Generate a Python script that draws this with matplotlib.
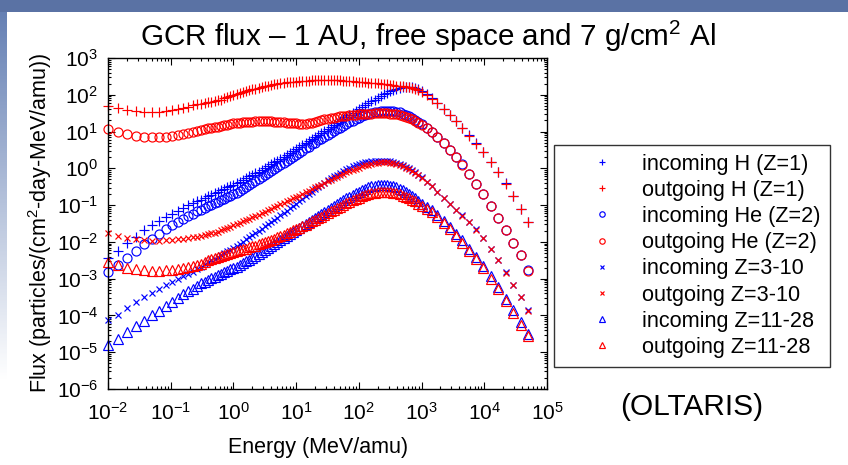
import matplotlib
matplotlib.use("Agg")
import matplotlib.pyplot as plt
from matplotlib.ticker import LogLocator, NullFormatter
from matplotlib.patches import Rectangle
import numpy as np

plt.rcParams['font.family'] = ['Liberation Sans', 'DejaVu Sans']
plt.rcParams['mathtext.fontset'] = 'custom'
plt.rcParams['mathtext.rm'] = 'Liberation Sans'
plt.rcParams['mathtext.default'] = 'regular'
plt.rcParams['axes.unicode_minus'] = False

# energy grid, log10(MeV/amu)
energy_log = [-2.0, -1.84, -1.69, -1.55, -1.42, -1.3, -1.19, -1.08, -0.98, -0.89, -0.8, -0.72, -0.65, -0.58, -0.52, -0.46, -0.4,
              -0.35, -0.3, -0.25, -0.2, -0.15, -0.1, -0.05, 0.0,
              0.05, 0.1, 0.15, 0.2, 0.25, 0.3, 0.35, 0.4, 0.45, 0.5, 0.55, 0.6, 0.65, 0.7, 0.75, 0.8, 0.85, 0.9, 0.95, 1.0,
              1.05, 1.1, 1.15, 1.2, 1.25, 1.3, 1.35, 1.4, 1.45, 1.5, 1.55, 1.6, 1.65, 1.7, 1.75, 1.8, 1.85, 1.9, 1.95, 2.0,
              2.05, 2.1, 2.15, 2.2, 2.25, 2.3, 2.35, 2.4, 2.45, 2.5, 2.55, 2.6, 2.65, 2.7, 2.75, 2.8, 2.85, 2.9, 2.95, 3.0,
              3.08, 3.16, 3.25, 3.35, 3.45, 3.55, 3.65, 3.76, 3.87, 3.98, 4.1, 4.22, 4.34, 4.46, 4.58, 4.7]

# log10 flux, particles/(cm2-day-MeV/amu)
in_h = [-2.45, -2.24, -2.04, -1.86, -1.69, -1.55, -1.43, -1.32, -1.23, -1.15, -1.07, -1.01, -0.95, -0.89, -0.85, -0.80, -0.75,
        -0.72, -0.68, -0.64, -0.60, -0.56, -0.52, -0.48, -0.44,
        -0.40, -0.36, -0.31, -0.27, -0.22, -0.18, -0.13, -0.09, -0.04, 0.01, 0.06, 0.11, 0.16, 0.21, 0.26, 0.31, 0.36, 0.41, 0.46, 0.52,
        0.57, 0.63, 0.68, 0.74, 0.79, 0.85, 0.90, 0.96, 1.01, 1.07, 1.12, 1.18, 1.23, 1.29, 1.34, 1.40, 1.45, 1.51, 1.56, 1.62,
        1.67, 1.72, 1.77, 1.82, 1.87, 1.92, 1.97, 2.01, 2.05, 2.09, 2.13, 2.16, 2.19, 2.21, 2.22, 2.22, 2.21, 2.19, 2.15, 2.10,
        2.01, 1.90, 1.78, 1.62, 1.46, 1.30, 1.11, 0.90, 0.68, 0.45, 0.18, -0.10, -0.41, -0.74, -1.10, -1.46]
out_h = [1.70, 1.64, 1.58, 1.55, 1.52, 1.52, 1.53, 1.56, 1.59, 1.61, 1.64, 1.68, 1.71, 1.74, 1.76, 1.78, 1.80,
         1.81, 1.83, 1.85, 1.87, 1.90, 1.93, 1.96, 1.99,
         2.02, 2.05, 2.08, 2.10, 2.13, 2.15, 2.17, 2.19, 2.21, 2.23, 2.25, 2.27, 2.29, 2.30, 2.32, 2.33, 2.34, 2.35, 2.36, 2.36,
         2.37, 2.37, 2.38, 2.38, 2.39, 2.39, 2.39, 2.39, 2.39, 2.39, 2.39, 2.39, 2.39, 2.39, 2.38, 2.38, 2.37, 2.37, 2.36, 2.36,
         2.35, 2.34, 2.33, 2.32, 2.31, 2.31, 2.30, 2.29, 2.28, 2.27, 2.26, 2.25, 2.24, 2.23, 2.22, 2.20, 2.18, 2.15, 2.12, 2.08,
         1.99, 1.89, 1.77, 1.61, 1.45, 1.29, 1.10, 0.89, 0.67, 0.44, 0.17, -0.11, -0.42, -0.75, -1.11, -1.47]
in_he = [-2.82, -2.62, -2.44, -2.25, -2.06, -1.91, -1.78, -1.66, -1.55, -1.46, -1.37, -1.29, -1.23, -1.17, -1.12, -1.08, -1.03,
         -0.99, -0.95, -0.91, -0.87, -0.83, -0.79, -0.75, -0.71,
         -0.66, -0.61, -0.56, -0.51, -0.45, -0.40, -0.34, -0.29, -0.23, -0.18, -0.12, -0.07, -0.01, 0.04, 0.10, 0.15, 0.21, 0.26, 0.32, 0.37,
         0.43, 0.48, 0.54, 0.59, 0.65, 0.70, 0.76, 0.81, 0.86, 0.91, 0.96, 1.01, 1.06, 1.11, 1.16, 1.20, 1.25, 1.29, 1.33, 1.37,
         1.41, 1.44, 1.47, 1.50, 1.52, 1.54, 1.55, 1.56, 1.56, 1.56, 1.55, 1.54, 1.52, 1.49, 1.45, 1.41, 1.36, 1.31, 1.26, 1.20,
         1.10, 0.99, 0.86, 0.69, 0.51, 0.32, 0.11, -0.15, -0.42, -0.70, -1.02, -1.35, -1.68, -2.02, -2.36, -2.77]
out_he = [1.06, 0.98, 0.92, 0.87, 0.85, 0.84, 0.84, 0.86, 0.88, 0.90, 0.92, 0.95, 0.98, 1.01, 1.03, 1.06, 1.09,
          1.10, 1.12, 1.13, 1.15, 1.17, 1.19, 1.21, 1.22,
          1.23, 1.24, 1.25, 1.26, 1.27, 1.27, 1.28, 1.28, 1.28, 1.28, 1.28, 1.28, 1.27, 1.27, 1.26, 1.25, 1.24, 1.23, 1.22, 1.22,
          1.21, 1.21, 1.21, 1.22, 1.24, 1.26, 1.28, 1.31, 1.33, 1.35, 1.37, 1.38, 1.40, 1.41, 1.42, 1.43, 1.44, 1.45, 1.46, 1.47,
          1.48, 1.48, 1.49, 1.49, 1.50, 1.50, 1.50, 1.50, 1.50, 1.49, 1.48, 1.47, 1.45, 1.43, 1.40, 1.37, 1.33, 1.29, 1.24, 1.19,
          1.09, 0.98, 0.85, 0.68, 0.50, 0.31, 0.10, -0.16, -0.43, -0.71, -1.03, -1.36, -1.69, -2.03, -2.37, -2.78]
in_z3 = [-4.12, -3.98, -3.80, -3.63, -3.50, -3.38, -3.28, -3.18, -3.10, -3.02, -2.94, -2.87, -2.81, -2.74, -2.68, -2.61, -2.55,
         -2.50, -2.46, -2.41, -2.36, -2.31, -2.26, -2.21, -2.16,
         -2.11, -2.05, -1.99, -1.93, -1.87, -1.81, -1.76, -1.70, -1.64, -1.58, -1.52, -1.46, -1.40, -1.34, -1.28, -1.21, -1.15, -1.08, -1.02, -0.96,
         -0.89, -0.83, -0.76, -0.70, -0.63, -0.57, -0.51, -0.45, -0.39, -0.33, -0.27, -0.22, -0.17, -0.12, -0.07, -0.03, 0.01, 0.05, 0.08, 0.11,
         0.14, 0.16, 0.18, 0.19, 0.20, 0.21, 0.21, 0.21, 0.20, 0.19, 0.17, 0.15, 0.12, 0.08, 0.04, 0.00, -0.05, -0.11, -0.17, -0.24,
         -0.36, -0.48, -0.63, -0.80, -0.97, -1.12, -1.28, -1.46, -1.66, -1.89, -2.19, -2.49, -2.83, -3.16, -3.50, -3.86]
out_z3 = [-1.76, -1.84, -1.89, -1.93, -1.96, -1.97, -1.97, -1.96, -1.95, -1.93, -1.92, -1.90, -1.88, -1.86, -1.84, -1.81, -1.79,
          -1.77, -1.75, -1.72, -1.69, -1.66, -1.62, -1.59, -1.55,
          -1.52, -1.48, -1.44, -1.40, -1.37, -1.33, -1.30, -1.26, -1.22, -1.18, -1.14, -1.10, -1.06, -1.02, -0.98, -0.94, -0.90, -0.86, -0.82, -0.78,
          -0.74, -0.70, -0.65, -0.61, -0.56, -0.52, -0.48, -0.44, -0.39, -0.35, -0.31, -0.27, -0.23, -0.19, -0.15, -0.11, -0.07, -0.04, -0.01, 0.02,
          0.05, 0.08, 0.10, 0.12, 0.14, 0.15, 0.16, 0.16, 0.16, 0.15, 0.14, 0.12, 0.09, 0.05, 0.01, -0.03, -0.08, -0.13, -0.19, -0.25,
          -0.37, -0.49, -0.64, -0.81, -0.98, -1.13, -1.29, -1.47, -1.67, -1.90, -2.20, -2.50, -2.84, -3.17, -3.51, -3.87]
in_z11 = [-4.80, -4.63, -4.46, -4.30, -4.15, -4.00, -3.87, -3.75, -3.64, -3.53, -3.43, -3.34, -3.27, -3.19, -3.13, -3.08, -3.03,
          -2.99, -2.95, -2.91, -2.87, -2.83, -2.79, -2.75, -2.71,
          -2.67, -2.62, -2.58, -2.53, -2.49, -2.44, -2.39, -2.33, -2.28, -2.23, -2.17, -2.12, -2.06, -2.01, -1.95, -1.90, -1.84, -1.79, -1.73, -1.68,
          -1.62, -1.57, -1.51, -1.46, -1.40, -1.35, -1.29, -1.24, -1.18, -1.13, -1.07, -1.02, -0.97, -0.92, -0.87, -0.82, -0.77, -0.72, -0.67, -0.63,
          -0.59, -0.55, -0.52, -0.49, -0.47, -0.46, -0.45, -0.45, -0.46, -0.47, -0.49, -0.52, -0.56, -0.60, -0.65, -0.70, -0.76, -0.82, -0.89, -0.96,
          -1.04, -1.14, -1.26, -1.42, -1.59, -1.78, -1.96, -2.18, -2.41, -2.65, -2.94, -3.23, -3.54, -3.86, -4.18, -4.50]
out_z11 = [-2.56, -2.64, -2.70, -2.74, -2.77, -2.78, -2.78, -2.77, -2.76, -2.74, -2.72, -2.69, -2.66, -2.63, -2.59, -2.54, -2.49,
           -2.46, -2.43, -2.40, -2.38, -2.35, -2.33, -2.30, -2.28,
           -2.25, -2.23, -2.20, -2.18, -2.15, -2.12, -2.10, -2.07, -2.04, -2.01, -1.98, -1.95, -1.92, -1.88, -1.85, -1.81, -1.77, -1.73, -1.69, -1.65,
           -1.61, -1.57, -1.53, -1.49, -1.44, -1.40, -1.35, -1.31, -1.26, -1.22, -1.17, -1.13, -1.08, -1.04, -0.99, -0.95, -0.91, -0.87, -0.83, -0.80,
           -0.76, -0.73, -0.70, -0.68, -0.66, -0.65, -0.64, -0.64, -0.64, -0.65, -0.66, -0.68, -0.71, -0.74, -0.77, -0.81, -0.85, -0.90, -0.96, -1.02,
           -1.11, -1.20, -1.32, -1.48, -1.65, -1.84, -2.02, -2.24, -2.47, -2.71, -3.00, -3.29, -3.60, -3.93, -4.25, -4.57]

labels = ["incoming H (Z=1)", "outgoing H (Z=1)", "incoming He (Z=2)", "outgoing He (Z=2)",
          "incoming Z=3-10", "outgoing Z=3-10", "incoming Z=11-28", "outgoing Z=11-28"]
flux_sets = [in_h, out_h, in_he, out_he, in_z3, out_z3, in_z11, out_z11]
markers = ['+', '+', 'o', 'o', 'x', 'x', '^', '^']
sizes = [7, 7, 6.5, 6.5, 5, 5, 6.5, 6.5]
colors = ['#0000ff', '#ff0000'] * 4

W, H = 848, 465
fig = plt.figure(figsize=(W / 100, H / 100), dpi=100)

# slide decoration
bg = fig.add_axes([0, 0, 1, 1], zorder=-5)
bg.set_xlim(0, W)
bg.set_ylim(H, 0)
bg.axis('off')
bg.add_patch(Rectangle((0, 0), W, 12, color='#5a72a4', lw=0))
grad = np.linspace(0, 1, 200).reshape(-1, 1)
bg.imshow(grad, cmap=matplotlib.colors.LinearSegmentedColormap.from_list('g', ['#6580b4', '#ffffff']),
          extent=[0, 7, 380, 12], aspect='auto')

ax = fig.add_axes([108 / W, 1 - 389 / H, (547 - 108) / W, (389 - 58) / H])
energy = np.power(10.0, energy_log)
for lab, vals, mk, ms, c in zip(labels, flux_sets, markers, sizes, colors):
    ax.plot(energy, np.power(10.0, vals), linestyle='none', marker=mk, markersize=ms,
            markerfacecolor='none', markeredgecolor=c, markeredgewidth=0.85, label=lab, clip_on=False)

ax.set_xscale('log')
ax.set_yscale('log')
ax.set_xlim(1e-2, 1e5)
ax.set_ylim(1e-6, 1e3)
ax.xaxis.set_major_locator(LogLocator(base=10, numticks=20))
ax.yaxis.set_major_locator(LogLocator(base=10, numticks=20))
ax.xaxis.set_minor_locator(LogLocator(base=10, subs=np.arange(2, 10), numticks=100))
ax.yaxis.set_minor_locator(LogLocator(base=10, subs=np.arange(2, 10), numticks=100))
ax.xaxis.set_minor_formatter(NullFormatter())
ax.yaxis.set_minor_formatter(NullFormatter())
ax.tick_params(which='both', direction='in', top=True, right=True, labelsize=15, width=0.8)
ax.tick_params(which='major', length=5, pad=7)
ax.tick_params(axis='x', which='major', pad=9)
ax.tick_params(which='minor', length=2.5)
for s in ax.spines.values():
    s.set_linewidth(1.0)

leg = ax.legend(loc='upper left', bbox_to_anchor=(554 / W, 1 - 145 / H), bbox_transform=fig.transFigure,
                fontsize=15.6, numpoints=1, markerscale=0.6, handlelength=3.6, handletextpad=0.08,
                borderpad=0.4, labelspacing=0.24, borderaxespad=0, fancybox=False, framealpha=1)
leg.get_frame().set_edgecolor('#333333')
leg.get_frame().set_linewidth(1.0)

fig.text(140 / W, 1 - 36 / H, "GCR flux \u2013 1 AU, free space and 7 g/cm$^2$ Al", fontsize=21.3,
         ha='left', va='center')
fig.text(40 / W, 1 - 223 / H, "Flux (particles/(cm$^2$-day-MeV/amu))", fontsize=15.5,
         rotation=90, ha='center', va='center')
fig.text(318 / W, 1 - 447 / H, "Energy (MeV/amu)", fontsize=15.5, ha='center', va='center')
fig.text(620 / W, 1 - 407 / H, "(OLTARIS)", fontsize=21.5, ha='left', va='center')

fig.savefig('out.png', dpi=100)
